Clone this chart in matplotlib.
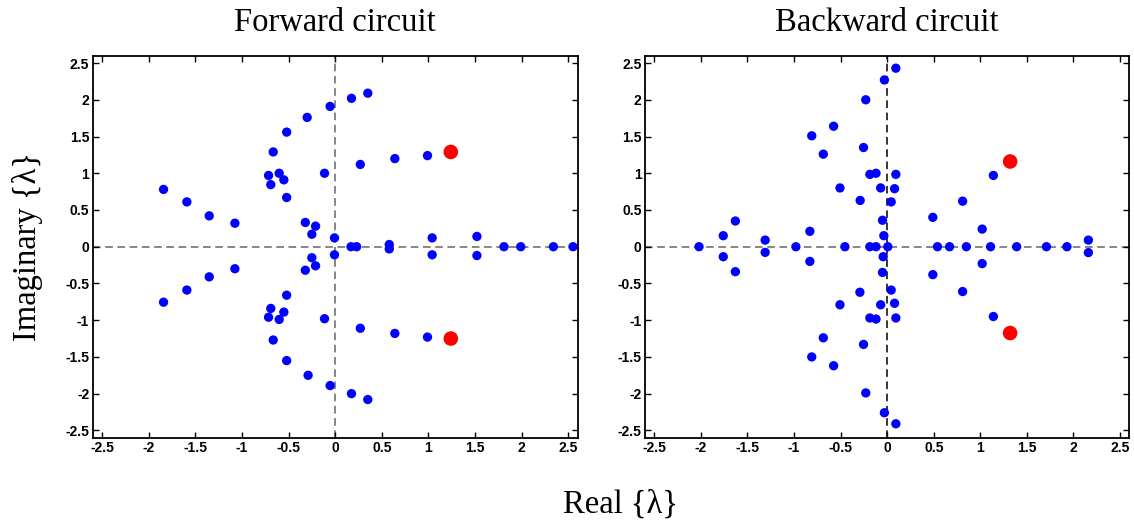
import numpy as np
import matplotlib
matplotlib.use('Agg')
import matplotlib.pyplot as plt

# eigenvalues of the forward circuit (blue), dominant pair in red
fwd_re = [-1.84, -1.59, -1.35, -1.075, -0.714, -0.69, -0.664, -0.60, -0.55, -0.52, -0.52,
          -0.30, -0.32, -0.21, -0.25, -0.114, -0.054, -0.007, 0.175, 0.35, 0.27, 0.64, 0.99,
          0.58, 1.04, 1.52,
          0.17, 0.23, 1.81, 1.99, 2.34, 2.55,
          -1.84, -1.59, -1.35, -1.075, -0.714, -0.69, -0.664, -0.60, -0.55, -0.52, -0.52,
          -0.29, -0.32, -0.21, -0.25, -0.114, -0.054, -0.007, 0.175, 0.35, 0.27, 0.64, 0.99,
          0.58, 1.04, 1.52]
fwd_im = [0.78, 0.61, 0.42, 0.32, 0.97, 0.845, 1.29, 1.00, 0.91, 1.56, 0.67,
          1.76, 0.33, 0.28, 0.17, 1.00, 1.91, 0.12, 2.02, 2.09, 1.12, 1.20, 1.24,
          0.03, 0.12, 0.14,
          0, 0, 0, 0, 0, 0,
          -0.755, -0.59, -0.41, -0.30, -0.96, -0.84, -1.27, -0.99, -0.89, -1.55, -0.66,
          -1.75, -0.32, -0.26, -0.15, -0.98, -1.89, -0.11, -2.0, -2.08, -1.11, -1.18, -1.23,
          -0.03, -0.11, -0.12]
fwd_dom_re = [1.24, 1.24]
fwd_dom_im = [1.29, -1.25]

# eigenvalues of the backward circuit
bwd_re = [-1.76, -1.63, -1.31, -0.83, -0.81, -0.686, -0.575, -0.507, -0.29, -0.254, -0.23,
          -0.186, -0.12, -0.07, -0.05, -0.036, -0.03, 0.093, 0.093, 0.079, 0.043,
          0.49, 0.81, 1.02, 1.14, 2.16,
          -2.02, -0.98, -0.454, -0.186, -0.12, 0.007, 0.54, 0.67, 0.85, 1.11, 1.39, 1.71, 1.93,
          -1.76, -1.63, -1.31, -0.83, -0.81, -0.686, -0.575, -0.507, -0.293, -0.254, -0.23,
          -0.186, -0.12, -0.07, -0.05, -0.043, -0.03, 0.093, 0.093, 0.079, 0.043,
          0.49, 0.81, 1.02, 1.14, 2.16]
bwd_im = [0.15, 0.35, 0.09, 0.21, 1.51, 1.26, 1.64, 0.80, 0.63, 1.35, 2.0,
          0.985, 1.00, 0.80, 0.36, 0.15, 2.27, 2.43, 0.985, 0.79, 0.61,
          0.40, 0.62, 0.24, 0.97, 0.09,
          0, 0, 0, 0, 0, 0, 0, 0, 0, 0, 0, 0, 0,
          -0.136, -0.34, -0.077, -0.20, -1.50, -1.24, -1.62, -0.79, -0.62, -1.33, -1.99,
          -0.97, -0.985, -0.79, -0.35, -0.136, -2.26, -2.41, -0.97, -0.77, -0.59,
          -0.38, -0.61, -0.23, -0.95, -0.08]
bwd_dom_re = [1.32, 1.32]
bwd_dom_im = [1.16, -1.175]

titles = ['Forward circuit', 'Backward circuit']
ticks = [-2.5, -2, -1.5, -1, -0.5, 0, 0.5, 1, 1.5, 2, 2.5]
tick_labels = ['-2.5', '-2', '-1.5', '-1', '-0.5', '0', '0.5', '1', '1.5', '2', '2.5']

serif = ['Liberation Serif', 'DejaVu Serif']

fig = plt.figure(figsize=(11.34, 5.27), dpi=100)
ax1 = fig.add_axes([0.0817, 0.1694, 0.4277, 0.7249])
ax2 = fig.add_axes([0.5688, 0.1694, 0.4271, 0.7249])

panels = [(ax1, fwd_re, fwd_im, fwd_dom_re, fwd_dom_im, '0.4'),
          (ax2, bwd_re, bwd_im, bwd_dom_re, bwd_dom_im, 'k')]

for i, (ax, re, im, dre, dim, vcol) in enumerate(panels):
    ax.axhline(0, color='0.4', lw=1.1, dashes=(5, 3), zorder=1)
    ax.axvline(0, color=vcol, lw=1.1, dashes=(5, 3), zorder=1)
    ax.scatter(re, im, s=45, color='#0000ff', edgecolors='none', zorder=3)
    ax.scatter(dre, dim, s=110, color='#ff0000', edgecolors='none', zorder=4)
    ax.set_xlim(-2.6, 2.6)
    ax.set_ylim(-2.6, 2.6)
    ax.set_xticks(ticks)
    ax.set_xticklabels(tick_labels)
    ax.set_yticks(ticks)
    ax.set_yticklabels(tick_labels)
    ax.tick_params(direction='in', top=True, right=True, length=4, width=1,
                   pad=2.5, labelsize=10)
    for lab in ax.get_xticklabels() + ax.get_yticklabels():
        lab.set_fontfamily('Liberation Sans')
        lab.set_fontweight('bold')
    for sp in ax.spines.values():
        sp.set_linewidth(1.3)
    ax.set_title(titles[i], family=serif, fontsize=23.5, pad=18)

fig.text(0.024, 0.532, 'Imaginary {λ}', family=serif, fontsize=23.5,
         rotation=90, ha='center', va='center')
fig.text(0.547, 0.042, 'Real {λ}', family=serif, fontsize=23.5,
         ha='center', va='center')

fig.savefig('out.png', dpi=100)
